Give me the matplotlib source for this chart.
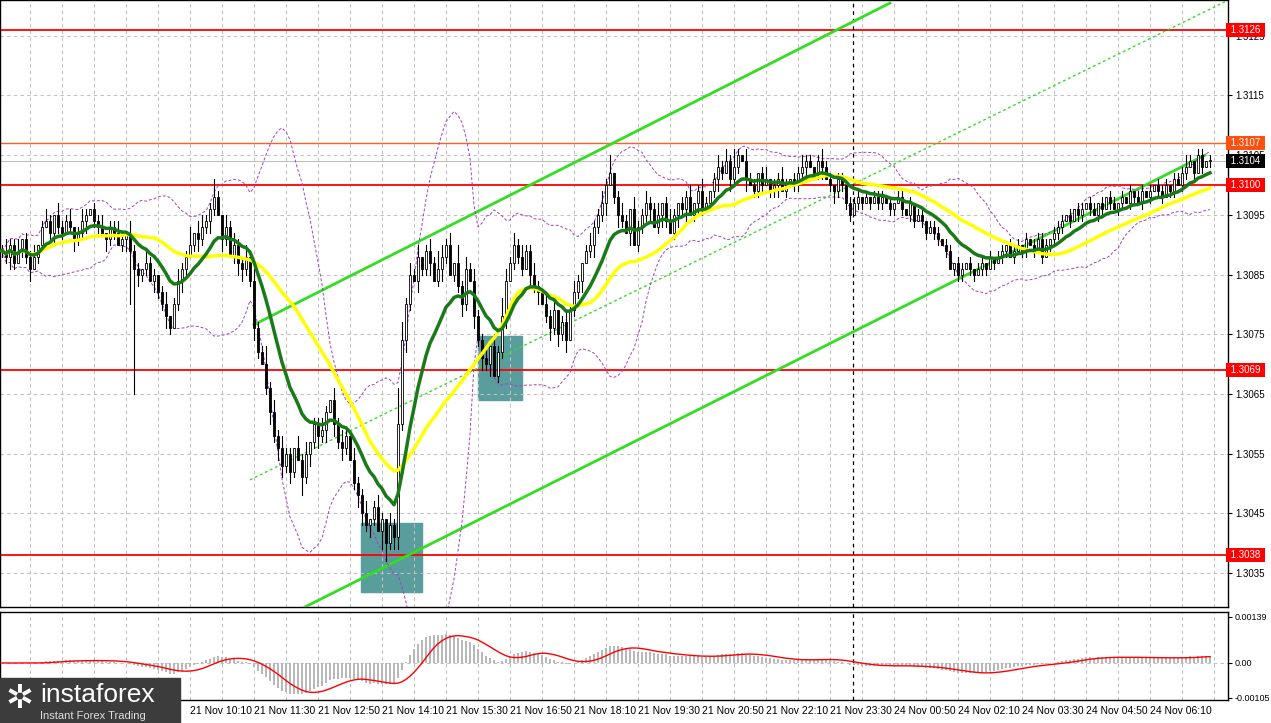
import matplotlib
matplotlib.use("Agg")
import matplotlib.pyplot as plt
import numpy as np
import pandas as pd
from matplotlib.patches import Rectangle

plt.rcParams['font.family'] = ['Liberation Sans', 'DejaVu Sans']

closes_pips = [89,88,90,87,89,91,88,86,88,90,
93,94,92,95,93,92,94,93,91,92,
94,95,96,94,93,92,91,93,92,90,
91,92,89,86,85,86,87,84,85,82,
80,78,76,80,84,86,88,90,92,91,
93,94,96,98,95,91,93,88,90,87,
86,88,84,76,72,70,66,62,58,56,
53,55,52,56,54,51,55,57,60,58,
59,62,64,60,57,56,58,54,50,48,
45,43,44,46,42,44,40,43,41,60,
74,80,85,84,88,86,89,87,84,86,
88,90,85,87,83,80,86,84,78,74,
71,70,73,68,72,78,84,87,90,88,
86,89,85,83,82,80,78,76,79,75,
77,74,79,82,84,87,89,90,93,95,
97,100,102,98,95,94,92,96,90,93,
95,97,96,93,95,97,94,92,95,97,
96,98,95,97,99,96,97,99,101,103,
102,104,101,103,105,104,101,100,99,102,
100,101,99,100,101,99,100,101,100,102,
103,104,103,102,104,103,101,100,99,101,
100,97,95,97,98,97,98,97,98,97,
98,97,96,97,98,96,95,97,94,95,
94,92,93,92,91,90,89,86,87,85,
86,87,86,85,86,87,86,88,87,88,
89,90,88,89,90,89,91,90,89,91,
88,90,91,92,93,94,95,94,96,95,
96,97,96,95,97,96,98,97,96,97,
98,97,99,98,97,99,98,99,100,99,
98,100,99,101,100,102,103,104,102,105,
103,104,104]
wick_hi = ("1211201120" "1210211201" "2101120112" "1021102110" "1201211302"
           "2113102121" "1202113121" "2110212011" "2102121021" "1201210216"
           "3121201213" "2120312121" "1202132121" "2112102120" "1212101211"
           "2130121021" "1211201210" "1120121012" "1213102110" "1201121011"
           "2110121101" "1011101011" "1010110101" "1011101101" "1010110101"
           "1011101011" "1101110101" "1011010110" "1010110101" "1101112101" "101")
wick_lo = ("1121011201" "1012110121" "1201102110" "1290211021" "1210121012"
           "1121021012" "2112101212" "2121031212" "1202121012" "2121032222"
           "1210211201" "2101121021" "2120112011" "1021201212" "1201120121"
           "1201210201" "1120121012" "1201210112" "1021102011" "1011201011"
           "1201120121" "1110110101" "1011010110" "1101101011" "1011011010"
           "1101011010" "1011110101" "1010110101" "1011010101" "1011011010" "101")
special_lo = {33: 65, 96: 37, 97: 39}

price_levels_red = [1.3126, 1.3100, 1.3069, 1.3038]
price_level_orange = 1.3107
last_price = 1.3104
price_ticks = [1.3035, 1.3045, 1.3055, 1.3065, 1.3075, 1.3085, 1.3095, 1.3105, 1.3115, 1.3125]
time_labels = ["21 Nov 10:10", "21 Nov 11:30", "21 Nov 12:50",
               "21 Nov 14:10", "21 Nov 15:30", "21 Nov 16:50", "21 Nov 18:10", "21 Nov 19:30",
               "21 Nov 20:50", "21 Nov 22:10", "21 Nov 23:30", "24 Nov 00:50", "24 Nov 02:10",
               "24 Nov 03:30", "24 Nov 04:50", "24 Nov 06:10"]
time_label_bars = [47 + 16 * j for j in range(len(time_labels))]
channel_upper = [(63, 1.30766), (222, 1.31305)]
channel_lower = [(75.75, 1.30293), (300.75, 1.31050)]
channel_mid = [(62, 1.30506), (305.75, 1.31307)]
boxes = [(89.75, 105, 1.30318, 1.30434), (119, 130, 1.30640, 1.30747)]
session_bar = 212.75

c = 1.30 + np.array(closes_pips) / 10000.0
n = len(c)
o = np.r_[c[0], c[:-1]]
hi = np.maximum(o, c) + np.array([int(ch) for ch in wick_hi[:n]]) / 10000.0
lo = np.minimum(o, c) - np.array([int(ch) for ch in wick_lo[:n]]) / 10000.0
for k, v in special_lo.items():
    lo[k] = 1.30 + v / 10000.0
x = np.arange(n)
s = pd.Series(c)
ma_fast = s.ewm(span=14).mean()
ma_slow = s.rolling(30, min_periods=1).mean()
bb_mid = s.rolling(20, min_periods=1).mean()
bb_sd = s.rolling(20, min_periods=2).std().fillna(0)
macd = s.ewm(span=12).mean() - s.ewm(span=26).mean()
signal = macd.rolling(9, min_periods=1).mean()

W, H = 1271, 723
fig = plt.figure(figsize=(12.71, 7.23), dpi=100)
ax = fig.add_axes([0, (H - 607) / H, 1228 / W, 607 / H])
ax2 = fig.add_axes([0, 23 / H, 1228 / W, 88 / H])
xl = (-0.5, 306.5)
ymin, ymax = 1.30293, 1.31310
for a in (ax, ax2):
    a.set_xlim(*xl)
    for sp in a.spines.values():
        sp.set_color("black"); sp.set_linewidth(1)
    a.yaxis.tick_right()
    a.tick_params(axis="y", labelsize=7, length=3, pad=2)
    a.set_xticks(np.arange(7, 307, 8))
    a.grid(axis="x", color="#c0c0c0", ls=(0, (3, 3)), lw=0.8)
    a.tick_params(axis="x", length=0, labelbottom=False)
ax.set_ylim(ymin, ymax)
ax.set_yticks(price_ticks)
ax.set_yticklabels([f"{v:.4f}" for v in price_ticks])
ax.grid(axis="y", color="#c0c0c0", ls=(0, (3, 3)), lw=0.8)

for (k0, k1, p0, p1) in boxes:
    ax.add_patch(Rectangle((k0, p0), k1 - k0, p1 - p0, color="#5a9d9d", zorder=1))
for lv in price_levels_red:
    ax.axhline(lv, color="#ff0000", lw=1.3, zorder=2)
ax.axhline(price_level_orange, color="#ff6020", lw=1, zorder=2)
ax.axhline(last_price, color="#b0b0b0", lw=0.6, zorder=2)
ax.axvline(session_bar, color="black", ls=(0, (3, 3)), lw=0.9, zorder=2)
ax2.axvline(session_bar, color="black", ls=(0, (3, 3)), lw=0.9, zorder=2)

for ln, st, lw in ((channel_upper, "-", 2), (channel_lower, "-", 2), (channel_mid, (0, (2, 2)), 1)):
    (k0, p0), (k1, p1) = ln
    ax.plot([k0, k1], [p0, p1], color="#33dd22", ls=st, lw=lw, zorder=3)

ax.plot(x, bb_mid + 2 * bb_sd, color="#a040c8", ls=(0, (3, 2)), lw=0.7, zorder=3)
ax.plot(x, bb_mid - 2 * bb_sd, color="#a040c8", ls=(0, (3, 2)), lw=0.7, zorder=3)

for i in range(n):
    ax.plot([i, i], [lo[i], hi[i]], color="black", lw=0.8, zorder=4)
    bull = c[i] >= o[i]
    bot = min(o[i], c[i]); h = max(abs(c[i] - o[i]), 0.00002)
    ax.add_patch(Rectangle((i - 0.32, bot), 0.64, h, facecolor="white" if bull else "black",
                           edgecolor="black", lw=0.6, zorder=5))
ax.plot(x, ma_slow, color="#ffff00", lw=2.5, zorder=6)
ax.plot(x, ma_fast, color="#1a7a1a", lw=2.5, zorder=7)

def tag(a, y, txt, bg, fg="white"):
    a.text(1.0, y, " " + txt + " ", transform=a.get_yaxis_transform(), va="center", ha="left",
           fontsize=7, color=fg, bbox=dict(boxstyle="square,pad=0.2", fc=bg, ec="none"), zorder=10, clip_on=False)
for lv in price_levels_red:
    tag(ax, lv, f"{lv:.4f}", "#ff0000")
tag(ax, price_level_orange, f"{price_level_orange:.4f}", "#ff5010")
tag(ax, last_price, f"{last_price:.4f}", "black")

ax2.set_ylim(-0.00112, 0.00154)
ax2.bar(x, macd, width=0.5, color="#b8b8b8", zorder=3)
ax2.plot(x, signal, color="#ff0000", lw=1, zorder=4)
ax2.axhline(0, color="#c0c0c0", ls=(0, (3, 3)), lw=0.8)
ax2.set_yticks([-0.00105, 0, 0.00139])
ax2.set_yticklabels(["-0.00105", "0.00", "0.00139"])
ax2.tick_params(axis="y", labelsize=6.5)

for k, lab in zip(time_label_bars, time_labels):
    ax2.annotate(lab, xy=(k, 0), xycoords=ax2.get_xaxis_transform(), xytext=(0, -4),
                 textcoords="offset points", ha="left", va="top", fontsize=7.5, annotation_clip=False)

fig.patches.append(Rectangle((0, 0), 180 / W, 45 / H, transform=fig.transFigure, color="#3c3c3c", zorder=20))
fig.text(40 / W, 28 / H, "instaforex", color="white", fontsize=19, va="center", ha="left", zorder=21)
fig.text(40 / W, 7 / H, "Instant Forex Trading", color="#dddddd", fontsize=8, va="center", ha="left", zorder=21)
fig.text(20 / W, 23 / H, "✲", color="white", fontsize=24, va="center", ha="center", zorder=21)

fig.savefig("out.png", dpi=100)
